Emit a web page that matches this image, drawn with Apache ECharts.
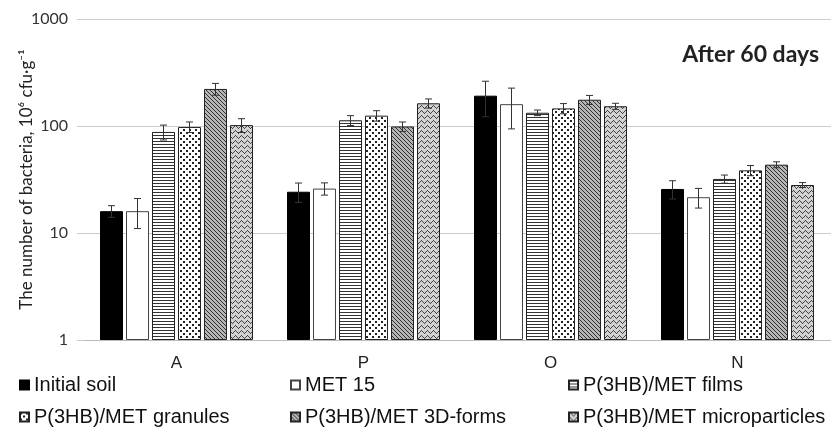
<!DOCTYPE html>
<html><head><meta charset="utf-8">
<script src="https://cdn.jsdelivr.net/npm/echarts@6/dist/echarts.min.js"></script>
<style>html,body{margin:0;padding:0;background:#fff}#c{width:831px;height:427px}</style>
</head><body><div id="c"></div>
<script>
const categories = ['A', 'P', 'O', 'N'];
const seriesNames = ['Initial soil', 'MET 15', 'P(3HB)/MET films', 'P(3HB)/MET granules', 'P(3HB)/MET 3D-forms', 'P(3HB)/MET microparticles'];
const initialSoil = [16, 24.3, 192, 25.8];
const met15 = [16, 26, 160, 21.6];
const films = [88, 113, 133, 32];
const granules = [98, 125, 146, 38.5];
const forms3d = [222, 99, 176, 43.5];
const microparticles = [102, 163, 153, 28.1];
const errInitialSoil = [2, 5, 70, 5];
const errMet15 = [5, 3.4, 66, 4.5];
const errFilms = [14, 12, 8, 2.8];
const errGranules = [11, 14, 16, 4.2];
const errForms3d = [28, 10, 17, 2.8];
const errMicro = [15, 16, 10, 1.5];
const yTicks = [1, 10, 100, 1000];

const values = [initialSoil, met15, films, granules, forms3d, microparticles];
const errs = [errInitialSoil, errMet15, errFilms, errGranules, errForms3d, errMicro];

function mk(w, h, bg, fg, pix) {
  const c = document.createElement('canvas'); c.width = w; c.height = h;
  const g = c.getContext('2d'); g.fillStyle = bg; g.fillRect(0, 0, w, h);
  g.fillStyle = fg; pix.forEach(p => g.fillRect(p[0], p[1], p[2] || 1, p[3] || 1));
  return { image: c, repeat: 'repeat' };
}
const fills = [
  '#000',
  '#fff',
  mk(4, 3, '#fff', '#333', [[0, 0, 4, 1]]),
  mk(6, 6, '#fff', '#222', [[0, 0, 2, 2], [3, 3, 2, 2]]),
  mk(4, 4, '#b5b5b5', '#333', [[0, 0], [1, 1], [2, 2], [3, 3]]),
  mk(6, 5, '#d2d2d2', '#444', [[0, 1], [1, 0], [2, 1], [3, 2], [4, 3], [5, 2]])
];
const borders = ['#000', '#444', '#222', '#222', '#222', '#222'];

const BW = 23, GAP = 3;
const series = [];
seriesNames.forEach((n, i) => {
  series.push({
    name: n, type: 'bar', data: values[i], barWidth: BW, barGap: (GAP / BW * 100) + '%',
    itemStyle: { color: fills[i], borderColor: borders[i], borderWidth: 1 },
    emphasis: { disabled: true }, animation: false
  });
});
seriesNames.forEach((n, i) => {
  series.push({
    type: 'custom', z: 10, animation: false,
    data: values[i].map((v, k) => [k, v - errs[i][k], v + errs[i][k]]),
    encode: { x: 0, y: [1, 2] },
    renderItem: function (params, api) {
      const k = api.value(0);
      const lo = api.coord([k, api.value(1)]);
      const hi = api.coord([k, api.value(2)]);
      const x = lo[0] + (i - 2.5) * (BW + GAP);
      const cw = 3.5;
      const st = { stroke: '#333', lineWidth: 1, fill: null };
      return { type: 'group', children: [
        { type: 'line', shape: { x1: x, y1: lo[1], x2: x, y2: hi[1] }, style: st },
        { type: 'line', shape: { x1: x - cw, y1: lo[1], x2: x + cw, y2: lo[1] }, style: st },
        { type: 'line', shape: { x1: x - cw, y1: hi[1], x2: x + cw, y2: hi[1] }, style: st }
      ]};
    }
  });
});

const legendCommon = {
  orient: 'vertical', itemWidth: 9, itemHeight: 9, itemGap: 12, selectedMode: false, padding: 0, icon: 'rect',
  textStyle: { fontFamily: 'Liberation Sans, Arial, sans-serif', fontSize: 20, color: '#111', lineHeight: 20 }
};

const chart = echarts.init(document.getElementById('c'), null, { renderer: 'canvas' });
chart.setOption({
  animation: false,
  title: { text: 'After 60 days', right: 12, top: 43, padding: 0,
    textStyle: { fontFamily: 'Lato, sans-serif', fontWeight: 'bold', fontSize: 23, color: '#222' } },
  grid: { left: 83, right: 0, top: 19, bottom: 87, outerBoundsMode: 'none', containLabel: false },
  legend: [
    Object.assign({ data: [seriesNames[0], seriesNames[3]], left: 19, top: 375 }, legendCommon),
    Object.assign({ data: [seriesNames[1], seriesNames[4]], left: 290, top: 375 }, legendCommon),
    Object.assign({ data: [seriesNames[2], seriesNames[5]], left: 568, top: 375 }, legendCommon)
  ],
  xAxis: {
    type: 'category', data: categories,
    axisLine: { lineStyle: { color: '#bbb' } },
    axisTick: { length: 5, lineStyle: { color: '#bbb' } },
    axisLabel: { fontFamily: 'Liberation Sans, Arial, sans-serif', fontSize: 17, color: '#222', margin: 15 }
  },
  yAxis: {
    type: 'log', logBase: 10, min: yTicks[0], max: yTicks[yTicks.length - 1],
    name: 'The number of bacteria, 10\u2076 cfu\u00b7g\u207b\u00b9', nameLocation: 'middle', nameGap: 48,
    nameMoveOverlap: false,
    nameTextStyle: { fontFamily: 'Lato, DejaVu Sans, sans-serif', fontSize: 17, color: '#222' },
    axisLine: { show: false },
    axisTick: { show: true, length: 6, lineStyle: { color: '#ccc' } },
    splitLine: { lineStyle: { color: '#ccc' } },
    axisLabel: { fontFamily: 'Lato, sans-serif', fontSize: 16, color: '#333', margin: 15,
      formatter: v => String(v) }
  },
  series: series
});
</script></body></html>
